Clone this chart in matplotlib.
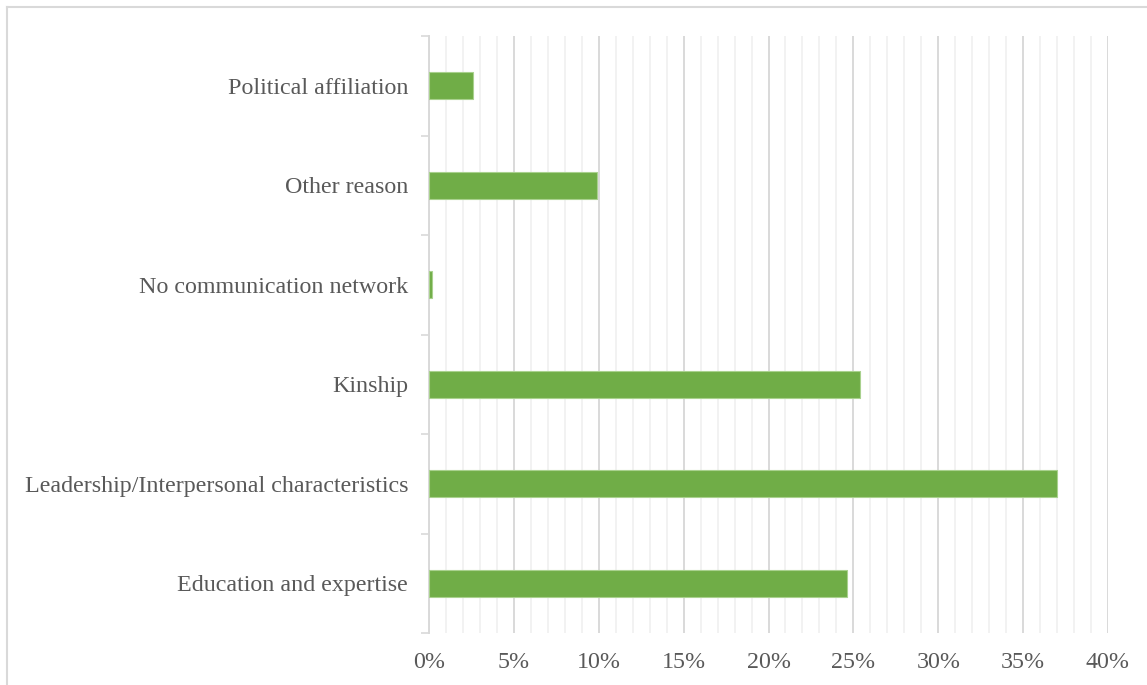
import matplotlib
matplotlib.use("Agg")
import matplotlib.pyplot as plt
from matplotlib.lines import Line2D
from matplotlib.ticker import MultipleLocator, PercentFormatter

categories = [
    "Education and expertise",
    "Leadership/Interpersonal characteristics",
    "Kinship",
    "No communication network",
    "Other reason",
    "Political affiliation",
]
shares = [24.6, 37.0, 25.4, 0.2, 9.9, 2.6]

BAR = "#70ad47"
MAJOR = "#d9d9d9"
MINOR = "#f0f0f0"
TEXT = "#595959"

plt.rcParams["font.family"] = ["Liberation Serif", "DejaVu Serif"]

fig = plt.figure(figsize=(11.47, 6.85), dpi=100)
ax = fig.add_axes([429 / 1147, 1 - 633 / 685, (1108 - 429) / 1147, (633 - 36) / 685])

ypos = list(range(len(categories)))
ax.barh(ypos, shares, height=0.27, color=BAR, edgecolor="#a9d18e", linewidth=0.8, zorder=3)

ax.set_xlim(0, 40)
ax.set_ylim(-0.5, len(categories) - 0.5)
ax.xaxis.set_major_locator(MultipleLocator(5))
ax.xaxis.set_minor_locator(MultipleLocator(1))
ax.xaxis.set_major_formatter(PercentFormatter(decimals=0))
ax.grid(axis="x", which="minor", color=MINOR, linewidth=1.2, zorder=0)
ax.grid(axis="x", which="major", color=MAJOR, linewidth=1.4, zorder=1)

ax.set_yticks([y - 0.5 for y in range(len(categories) + 1)])
ax.set_yticklabels([])
ax.set_yticks(ypos, minor=True)
ax.set_yticklabels(categories, minor=True)
ax.tick_params(axis="y", which="major", length=6, color=MAJOR, width=1.2)
ax.tick_params(axis="y", which="minor", length=0, pad=15, labelsize=17.3, labelcolor=TEXT)
ax.tick_params(axis="x", which="both", length=0, pad=14, labelsize=17.3, labelcolor=TEXT)

for side in ("top", "right", "bottom"):
    ax.spines[side].set_visible(False)
ax.spines["left"].set_color(MAJOR)
ax.spines["left"].set_linewidth(1.4)

# outer chart-area frame (left and top edges visible)
fig.add_artist(Line2D([7 / 1147, 7 / 1147], [0, 1 - 7 / 685], color=MAJOR, linewidth=1.5,
                      transform=fig.transFigure))
fig.add_artist(Line2D([7 / 1147, 1], [1 - 7 / 685, 1 - 7 / 685], color=MAJOR, linewidth=1.5,
                      transform=fig.transFigure))

fig.savefig("out.png", dpi=100)
